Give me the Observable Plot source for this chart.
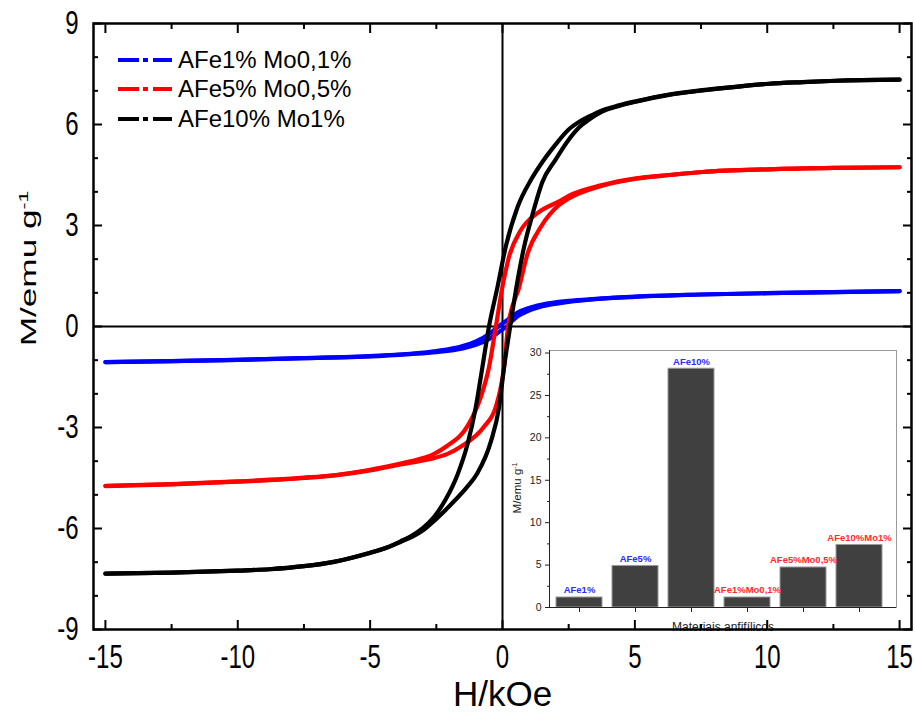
<!DOCTYPE html>
<html>
<head>
<meta charset="utf-8">
<script src="https://cdn.jsdelivr.net/npm/d3@7"></script>
<script src="https://cdn.jsdelivr.net/npm/@observablehq/plot@0.6"></script>
<style>
  body { margin: 0; background: #fff; }
  #wrap { position: relative; width: 915px; height: 713px; font-family: "Liberation Sans", Arial, sans-serif; overflow: hidden; }
  #wrap > svg { position: absolute; left: 0; top: 0; }
  #legend { position: absolute; left: 117px; top: 45px; }
  .lrow { height: 29.5px; display: flex; align-items: center; font-size: 24px; color: #000; white-space: nowrap; }
  .lrow svg { margin-right: 5px; }
</style>
</head>
<body>
<div id="wrap"></div>
<script>
// ---------- Hysteresis loops (H in kOe, M in emu/g) ----------
const blueDescH = [-15,-12.5,-10,-7.5,-5,-3.5,-2.5,-1.5,-1.0,-0.5,-0.15,0.2,0.5,1.0,1.5,2.5,3.5,5,7.5,10,12.5,15];
const blueDescM = [-1.06,-1.03,-0.99,-0.94,-0.88,-0.81,-0.73,-0.58,-0.44,-0.22,0,0.2,0.38,0.55,0.65,0.76,0.82,0.89,0.95,0.99,1.02,1.05];
const blueAscH  = [-15,-12.5,-10,-7.5,-5,-3.5,-2.5,-1.5,-1.0,-0.5,-0.2,0.15,0.5,1.0,1.5,2.5,3.5,5,7.5,10,12.5,15];
const blueAscM  = [-1.06,-1.03,-0.99,-0.94,-0.89,-0.82,-0.76,-0.65,-0.54,-0.37,-0.2,0,0.26,0.47,0.6,0.73,0.81,0.88,0.95,0.99,1.02,1.05];

const redDescH = [-15,-12.5,-10,-7.5,-6.3,-5.1,-3.85,-3.1,-2.6,-2.1,-1.3,-0.82,-0.51,-0.25,0,0.25,0.69,1.32,2.14,2.5,3.76,5.04,6.3,7.55,10.07,12.6,15];
const redDescM = [-4.73,-4.68,-4.60,-4.49,-4.41,-4.27,-4.07,-3.93,-3.79,-3.55,-2.93,-2.10,-1.21,0,1.19,2.08,2.86,3.37,3.72,3.88,4.20,4.40,4.50,4.59,4.67,4.71,4.73];
const redAscH  = [-15,-12.5,-10,-7.5,-6.3,-5.1,-3.85,-3.1,-2.6,-2.1,-1.58,-0.7,-0.25,0.06,0.21,0.63,0.95,1.45,2.14,2.5,3.76,5.04,6.3,7.55,10.07,12.6,15];
const redAscM  = [-4.74,-4.69,-4.61,-4.50,-4.42,-4.29,-4.10,-3.99,-3.91,-3.79,-3.57,-2.98,-2.38,-1.19,0,1.17,2.17,2.96,3.61,3.80,4.18,4.39,4.50,4.59,4.67,4.71,4.73];

const blackDescH = [-15,-12.5,-10,-8.8,-7.5,-6.37,-5.11,-4.4,-3.85,-3.4,-3.0,-2.59,-2.15,-1.70,-1.32,-1.01,-0.76,-0.51,-0.19,0.12,0.57,1.07,1.5,1.95,2.5,2.9,3.3,3.76,4.4,5.04,6.3,7.55,8.81,10.07,11.33,12.6,15];
const blackDescM = [-7.34,-7.31,-7.25,-7.21,-7.12,-6.99,-6.74,-6.57,-6.38,-6.20,-5.98,-5.66,-5.14,-4.40,-3.49,-2.40,-1.21,0,1.17,2.36,3.55,4.35,4.88,5.35,5.85,6.08,6.25,6.42,6.57,6.69,6.89,7.02,7.12,7.21,7.26,7.30,7.33];
const blackAscH  = [-15,-12.5,-10,-8.8,-7.5,-6.37,-5.11,-4.4,-3.85,-3.4,-3.0,-2.59,-2.15,-1.83,-1.35,-0.95,-0.44,-0.13,0.06,0.29,0.57,0.82,1.13,1.51,2.0,2.5,2.9,3.3,3.76,4.4,5.04,6.3,7.55,8.81,10.07,11.33,12.6,15];
const blackAscM  = [-7.34,-7.31,-7.25,-7.21,-7.12,-6.99,-6.75,-6.58,-6.40,-6.24,-6.05,-5.78,-5.45,-5.19,-4.78,-4.36,-3.42,-2.40,-1.21,0,1.37,2.38,3.32,4.3,4.95,5.55,5.92,6.16,6.38,6.55,6.68,6.88,7.01,7.12,7.21,7.26,7.30,7.33];

const seriesNames  = ["AFe1% Mo0,1%", "AFe5% Mo0,5%", "AFe10% Mo1%"];
const seriesColors = ["#0000ff", "#ff0000", "#000000"];

// Axis ticks
const xMajor = [-15, -10, -5, 0, 5, 10, 15];
const xMinor = [-12.5, -7.5, -2.5, 2.5, 7.5, 12.5];
const yMajor = [-9, -6, -3, 0, 3, 6, 9];
const yMinor = [-8, -7, -5, -4, -2, -1, 1, 2, 4, 5, 7, 8];

// ---------- Inset bar chart ----------
const barNames  = ["AFe1%", "AFe5%", "AFe10%", "AFe1%Mo0,1%", "AFe5%Mo0,5%", "AFe10%Mo1%"];
const barValues = [1.18, 4.89, 28.15, 1.18, 4.72, 7.37];
const barGroups = ["AFe", "AFe", "AFe", "Mo", "Mo", "Mo"];
const insetYMajor = [0, 5, 10, 15, 20, 25, 30];
const insetYMinor = [2.5, 7.5, 12.5, 17.5, 22.5, 27.5];

// ---------- Build tables ----------
function branch(Hs, Ms, series, b) {
  return Hs.map((h, i) => ({H: h, M: Ms[i], series, key: series + "|" + b}));
}
const loops = [
  [...branch(blueDescH, blueDescM, seriesNames[0], "d"), ...branch(blueAscH, blueAscM, seriesNames[0], "a")],
  [...branch(redDescH, redDescM, seriesNames[1], "d"), ...branch(redAscH, redAscM, seriesNames[1], "a")],
  [...branch(blackDescH, blackDescM, seriesNames[2], "d"), ...branch(blackAscH, blackAscM, seriesNames[2], "a")]
];
const bars = barNames.map((n, i) => ({name: n, value: barValues[i], group: barGroups[i]}));

const FONT = "Liberation Sans, Arial, sans-serif";

// ---------- Inset plot ----------
const inset = Plot.plot({
  width: 410, height: 300,
  marginLeft: 49, marginRight: 14, marginTop: 20, marginBottom: 23,
  style: {background: "transparent", fontFamily: FONT, fontSize: "10.5px", color: "#222", overflow: "visible"},
  x: {type: "band", domain: barNames, range: [54, 384], paddingInner: 0.17, paddingOuter: 0},
  y: {domain: [0, 30.3]},
  marks: [
    Plot.frame({stroke: "#9a9a9a", strokeWidth: 1}),
    Plot.barY(bars, {x: "name", y: "value", fill: "#404040", stroke: "#9a9a9a", strokeWidth: 1}),
    Plot.text(bars, {filter: d => d.group === "AFe", x: "name", y: "value", text: "name", dy: -4, lineAnchor: "bottom", fill: "#2b2bff", fontWeight: "bold", fontSize: 9.5}),
    Plot.text(bars, {filter: d => d.group === "Mo", x: "name", y: "value", text: "name", dy: -4, lineAnchor: "bottom", fill: "#ff2b2b", fontWeight: "bold", fontSize: 9.5}),
    Plot.ruleY([0], {stroke: "#222", strokeWidth: 1}),
    Plot.frame({anchor: "left", stroke: "#222", strokeWidth: 1}),
    Plot.axisY(insetYMajor, {tickSize: 4, tickPadding: 4, label: null, stroke: "#222", fill: "#222"}),
    Plot.axisY(insetYMinor, {tickSize: 2, fill: "none", stroke: "#222"}),
    Plot.axisX(barNames, {tickSize: 5, fill: "none", stroke: "#222"}),
    Plot.text(["M/emu g"], {frameAnchor: "left", dx: -32, dy: 9, rotate: -90, textAnchor: "middle", lineAnchor: "middle", fontSize: 11.5, fill: "#222"}),
    Plot.text(["Materiais anfifílicos"], {frameAnchor: "bottom", dy: 20, textAnchor: "middle", lineAnchor: "middle", fontSize: 12, fill: "#222"})
  ]
});
inset.style.left = "500px";
inset.style.top = "330px";

// ---------- Main plot ----------
const main = Plot.plot({
  width: 915, height: 713,
  marginLeft: 93, marginRight: 4, marginTop: 23, marginBottom: 84,
  style: {background: "transparent", fontFamily: FONT, fontSize: "24px", color: "#000", overflow: "visible"},
  x: {domain: [-15.45, 15.45]},
  y: {domain: [-9, 9]},
  marks: [
    Plot.ruleX([0], {strokeWidth: 2}),
    Plot.ruleY([0], {strokeWidth: 2}),
    ...loops.map((rows, i) => Plot.line(rows, {x: "H", y: "M", z: "key", stroke: seriesColors[i], strokeWidth: 4.2, curve: "monotone-x"})),
    Plot.frame({strokeWidth: 2.5}),
    Plot.axisX(xMajor, {anchor: "bottom", tickSize: -9, strokeWidth: 2, fill: "none"}),
    Plot.axisX(xMinor, {anchor: "bottom", tickSize: -5, strokeWidth: 2, fill: "none"}),
    Plot.axisX(xMajor, {anchor: "top", tickSize: -9, strokeWidth: 2, fill: "none"}),
    Plot.axisX(xMinor, {anchor: "top", tickSize: -5, strokeWidth: 2, fill: "none"}),
    Plot.axisY(yMajor, {anchor: "left", tickSize: -9, strokeWidth: 2, fill: "none"}),
    Plot.axisY(yMinor, {anchor: "left", tickSize: -5, strokeWidth: 2, fill: "none"}),
    Plot.axisY(yMajor, {anchor: "right", tickSize: -9, strokeWidth: 2, fill: "none"}),
    Plot.axisY(yMinor, {anchor: "right", tickSize: -5, strokeWidth: 2, fill: "none"}),
    Plot.axisX(xMajor, {anchor: "bottom", tickSize: 0, tickPadding: 15, label: null, tickFormat: d => String(d)}),
    Plot.axisY(yMajor, {anchor: "left", tickSize: 0, tickPadding: 15, label: null, tickFormat: d => String(d)}),
    Plot.text(["H/kOe"], {frameAnchor: "bottom", dy: 65, textAnchor: "middle", lineAnchor: "middle", fontSize: 35}),
    Plot.text(["M/emu g"], {frameAnchor: "left", dx: -65, dy: -58, rotate: -90, textAnchor: "middle", lineAnchor: "middle", fontSize: 22})
  ]
});

const wrap = document.getElementById("wrap");
wrap.appendChild(inset);
wrap.appendChild(main);

// tick labels drawn taller, like the reference
d3.select(main).selectAll('g[aria-label="x-axis tick label"] text, g[aria-label="y-axis tick label"] text').each(function() {
  const t = this.getAttribute("transform") || "";
  this.setAttribute("transform", t + " scale(1,1.38)");
});

// superscripts on the y labels
function addSup(svg, label, stretch) {
  d3.select(svg).selectAll("text").each(function() {
    if (this.textContent === label) {
      d3.select(this).append("tspan").attr("dy", "-0.6em").attr("font-size", "0.6em").text("-1");
      if (stretch) {
        const t = this.getAttribute("transform") || "";
        this.setAttribute("transform", t + ` scale(${stretch},1)`);
      }
    }
  });
}
addSup(main, "M/emu g", 1.6);
addSup(inset, "M/emu g", 0);

// legend
const legend = document.createElement("div");
legend.id = "legend";
seriesNames.forEach((name, i) => {
  const row = document.createElement("div");
  row.className = "lrow";
  row.innerHTML = `<svg width="56" height="10"><line x1="1" x2="55" y1="5" y2="5" stroke="${seriesColors[i]}" stroke-width="4" stroke-dasharray="21 4 5 5"/></svg><span>${name}</span>`;
  legend.appendChild(row);
});
wrap.appendChild(legend);
</script>
</body>
</html>
